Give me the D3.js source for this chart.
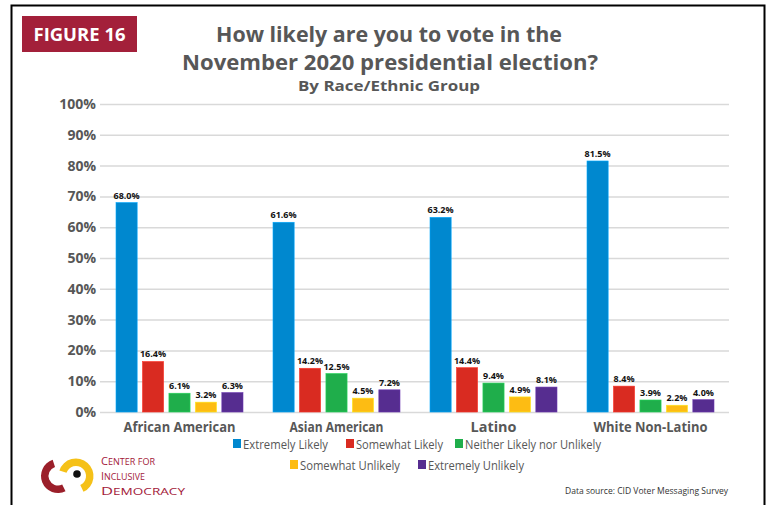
<!DOCTYPE html>
<html><head><meta charset="utf-8">
<script src="https://cdn.jsdelivr.net/npm/d3@7"></script>
<style>body{margin:0;background:#fff}svg{display:block}</style>
</head><body>
<svg id="c" width="770" height="505"></svg>
<script>
const categories = ["African American","Asian American","Latino","White Non-Latino"];
const seriesNames = ["Extremely Likely","Somewhat Likely","Neither Likely nor Unlikely","Somewhat Unlikely","Extremely Unlikely"];
const extremelyLikely = [68.0,61.6,63.2,81.5];
const somewhatLikely = [16.4,14.2,14.4,8.4];
const neither = [6.1,12.5,9.4,3.9];
const somewhatUnlikely = [3.2,4.5,4.9,2.2];
const extremelyUnlikely = [6.3,7.2,8.1,4.0];
const yTicks = [0,10,20,30,40,50,60,70,80,90,100];
const colors = ["#0088cf","#d92b21","#1fae4b","#fdbc13","#562d90"];

const seriesValues = [extremelyLikely,somewhatLikely,neither,somewhatUnlikely,extremelyUnlikely];
const svg = d3.select("#c");
const gray = "#575757";
const font = "'Open Sans', sans-serif";

// frame
svg.append("path").attr("d","M11.5,505 V5.5 H764.5 V505").attr("fill","none").attr("stroke","#000").attr("stroke-width",2);

// figure label
svg.append("rect").attr("x",22).attr("y",16).attr("width",115).attr("height",36).attr("fill","#a3203a");
svg.append("text").attr("x",79.5).attr("y",40.5).attr("text-anchor","middle").attr("fill","#fff")
  .attr("font-family",font).attr("font-weight","bold").attr("font-size",18).attr("textLength",92).attr("lengthAdjust","spacingAndGlyphs").text("FIGURE 16");

// titles
const t = svg.append("g").attr("font-family",font).attr("font-weight","bold").attr("fill",gray).attr("text-anchor","middle");
t.append("text").attr("x",389).attr("y",42).attr("font-size",20.5).attr("textLength",346).attr("lengthAdjust","spacingAndGlyphs").text("How likely are you to vote in the");
t.append("text").attr("x",390).attr("y",70).attr("font-size",20.5).attr("textLength",416).attr("lengthAdjust","spacingAndGlyphs").text("November 2020 presidential election?");
t.append("text").attr("x",389).attr("y",90.5).attr("font-size",15).attr("textLength",182).attr("lengthAdjust","spacingAndGlyphs").text("By Race/Ethnic Group");

// scales
const y = d3.scaleLinear().domain([0,100]).range([412,104]);
const x0 = d3.scaleBand().domain(categories).range([100,728]);
const x1 = d3.scaleBand().domain(seriesNames).range([16,143]).paddingInner(0.2).paddingOuter(0);

// grid
const yAxis = d3.axisLeft(y).tickValues(yTicks).tickFormat(d=>d+"%").tickSize(-(729-100)).tickPadding(5);
const ga = svg.append("g").attr("transform","translate(100,0)").call(yAxis);
ga.select(".domain").remove();
ga.selectAll(".tick line").attr("stroke","#d9d9d9").attr("stroke-width",1.5);
ga.selectAll(".tick text").attr("font-family",font).attr("font-weight","bold").attr("font-size",14).attr("fill",gray).attr("x",-4);

// bars
const groups = svg.append("g").selectAll("g").data(categories).join("g")
  .attr("transform",d=>`translate(${x0(d)},0)`);
groups.each(function(cat,ci){
  const g = d3.select(this);
  const data = seriesNames.map((s,si)=>({s,si,v:seriesValues[si][ci]}));
  g.selectAll("rect").data(data).join("rect")
    .attr("x",d=>x1(d.s)).attr("width",x1.bandwidth())
    .attr("y",d=>y(d.v)).attr("height",d=>y(0)-y(d.v))
    .attr("fill",d=>colors[d.si]).attr("stroke",d=>d3.color(colors[d.si]).brighter(0.6)).attr("stroke-width",0.6);
  g.selectAll("text").data(data).join("text")
    .attr("x",d=>x1(d.s)+x1.bandwidth()/2).attr("y",d=>y(d.v)-4)
    .attr("text-anchor","middle").attr("font-family",font).attr("font-weight","bold").attr("font-size",9).attr("fill","#111")
    .text(d=>d.v.toFixed(1)+"%");
});

// category labels
const catWidths = [112,94,46,114];
svg.append("g").selectAll("text").data(categories).join("text")
  .attr("x",d=>x0(d)+x0.bandwidth()/2+1).attr("y",432).attr("text-anchor","middle")
  .attr("font-family",font).attr("font-weight","bold").attr("font-size",14).attr("fill",gray)
  .attr("textLength",(d,i)=>catWidths[i]).attr("lengthAdjust","spacingAndGlyphs")
  .text(d=>d);

// legend
const legendPos = [[233,448],[346,448],[455,448],[290,469],[418,469]];
const legendW = [85,87,136,100,96];
const lg = svg.append("g");
seriesNames.forEach((s,i)=>{
  const [lx,ly] = legendPos[i];
  lg.append("rect").attr("x",lx).attr("y",ly-9).attr("width",8).attr("height",9).attr("fill",colors[i]);
  lg.append("text").attr("x",lx+10).attr("y",ly+0.5).attr("font-family",font).attr("font-size",12).attr("fill",gray)
    .attr("textLength",legendW[i]).attr("lengthAdjust","spacingAndGlyphs").text(s);
});

// data source
svg.append("text").attr("x",728).attr("y",494).attr("text-anchor","end").attr("font-family",font).attr("font-size",9).attr("fill","#333")
  .attr("textLength",163).attr("lengthAdjust","spacingAndGlyphs")
  .text("Data source: CID Voter Messaging Survey");

// logo
const arc = d3.arc();
svg.append("path").attr("fill","#9b1f2a").attr("transform","translate(58,476)")
  .attr("d",arc({innerRadius:9.5,outerRadius:17,startAngle:-3.6,endAngle:-0.32}));
svg.append("path").attr("fill","#f5c118").attr("transform","translate(76,476)")
  .attr("d",arc({innerRadius:10,outerRadius:17.5,startAngle:-1.25,endAngle:2.7}));
svg.append("circle").attr("cx",77).attr("cy",474).attr("r",3.8).attr("fill","#111");
const lt = svg.append("g").attr("font-family",font).attr("fill","#a3203a");
[["C","ENTER FOR",465,54],["I","NCLUSIVE",480,44],["D","EMOCRACY",495,84]].forEach(([a,b,yy,w])=>{
  const tx = lt.append("text").attr("x",101).attr("y",yy).attr("textLength",w).attr("lengthAdjust","spacingAndGlyphs");
  tx.append("tspan").attr("font-size",11).text(a);
  tx.append("tspan").attr("font-size",9).text(b);
});
</script>
</body></html>
